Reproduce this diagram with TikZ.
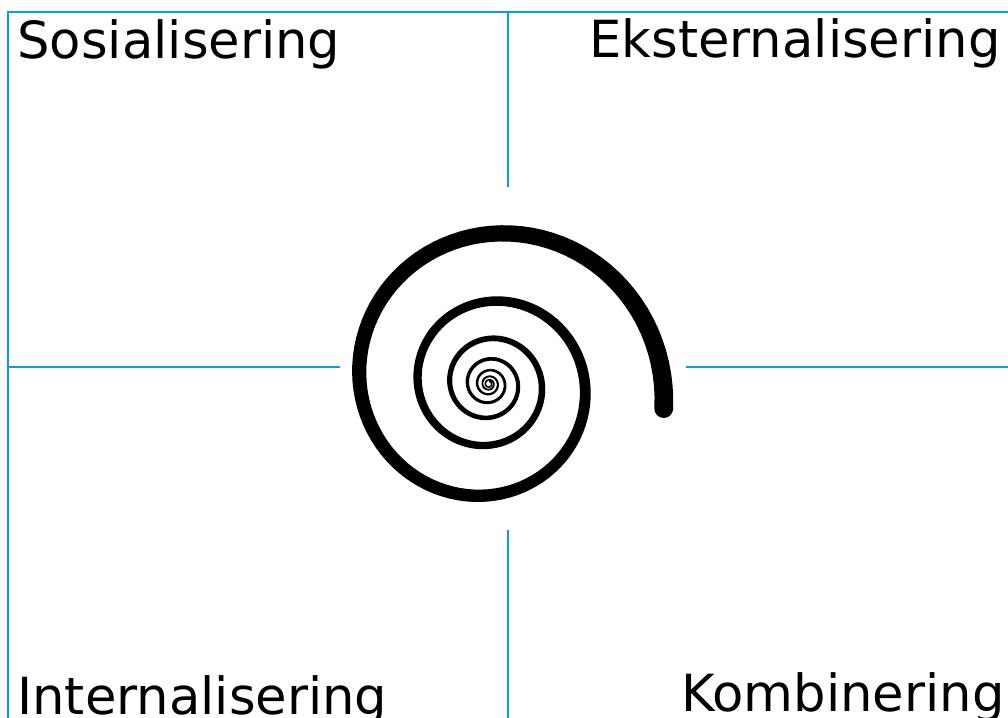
\documentclass[tikz,border=0pt]{standalone}
\usepackage{fontspec}
\setmainfont{DejaVu Sans}
\usepackage{tikz}
\usetikzlibrary{calc}
\definecolor{SeciBlue}{HTML}{08A0DE}
\definecolor{SeciInk}{HTML}{000000}
\tikzset{
  quadline/.style={draw=SeciBlue,line width=1pt},
  phase/.style={inner sep=0pt,font=\fontsize{25.6}{30}\selectfont,text=SeciInk},
  spiralfill/.style={fill=SeciInk,draw=none}
}

\begin{document}
\begin{tikzpicture}[x=0.5pt,y=0.5pt]
  \clip (0,0) rectangle (1008,718);
  % quadrant lines
  \coordinate (tl) at (8,706);
  \coordinate (tr) at (1008,706);
  \coordinate (bl) at (8,0);
  \coordinate (mtop) at (508,706);
  \coordinate (mtopend) at (508,531);
  \coordinate (mbot) at (508,0);
  \coordinate (mbotend) at (508,188);
  \coordinate (mleft) at (8,351);
  \coordinate (mleftend) at (340,351);
  \coordinate (mright) at (1008,351);
  \coordinate (mrightend) at (686,351);
  \draw[quadline] (bl) -- (tl) -- (tr);
  \draw[quadline] (mtop) -- (mtopend);
  \draw[quadline] (mbot) -- (mbotend);
  \draw[quadline] (mleft) -- (mleftend);
  \draw[quadline] (mright) -- (mrightend);
  % labels
  \node[phase,anchor=base west] (soc) at (17,659) {Sosialisering};
  \node[phase,anchor=base east] (ext) at (1001,660) {Eksternalisering};
  \node[phase,anchor=base west] (int) at (17,3) {Internalisering};
  \node[phase,anchor=base east] (komb) at (1005,6) {Kombinering};
  % spiral, stroke width grows with the radius
  \begin{scope}[shift={(489,334)}]
    \fill[spiralfill]
      plot[domain=-8:2610,samples=700] (\x:{150*exp(-0.095*rad(\x-90))*1.05+0.6})
      -- plot[domain=2610:-8,samples=700] (\x:{max(150*exp(-0.095*rad(\x-90))*0.95-0.6,0)})
      -- cycle;
    \fill[spiralfill] (-8:{150*exp(-0.095*rad(-98))}) circle[radius={0.05*150*exp(-0.095*rad(-98))+0.6}];
  \end{scope}
\end{tikzpicture}
\end{document}
